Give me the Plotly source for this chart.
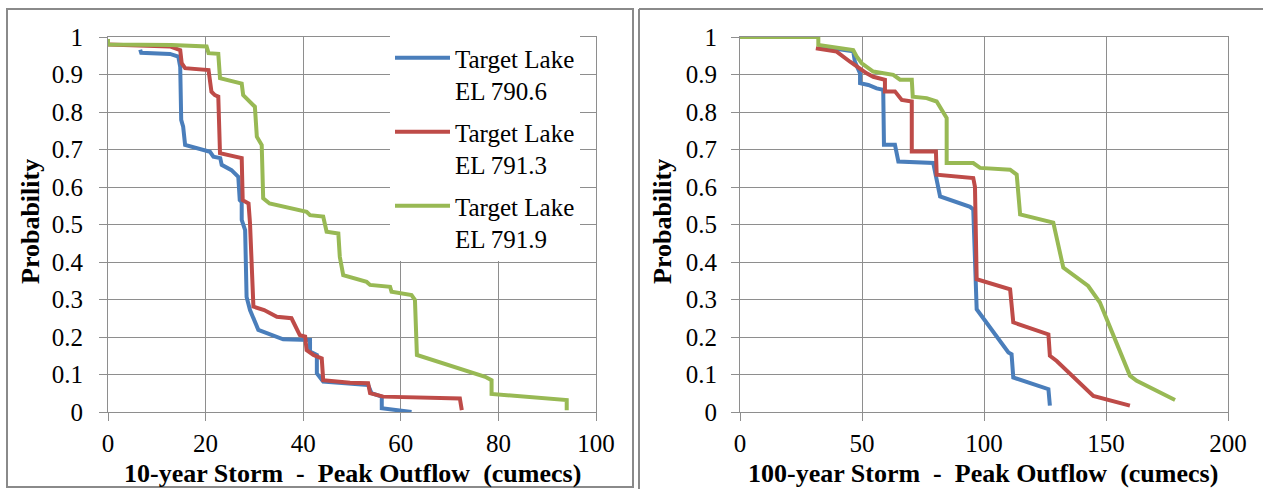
import plotly.graph_objects as go

# ---------------- data ----------------
series_names = ["Target Lake<br>EL 790.6", "Target Lake<br>EL 791.3", "Target Lake<br>EL 791.9"]
colors = ["#4A7EBB", "#BE4B48", "#98B954"]

# 10-year storm (left)
l_blue_x = [6.6, 6.8, 12.7, 14.4, 14.8, 15.0, 15.4, 15.8, 20.9, 21.6, 23.0, 23.3, 25.3, 26.7, 27.0, 27.4, 27.4, 28.1, 28.4, 29.1, 30.8, 33.9, 35.9, 41.4, 41.4, 42.8, 42.8, 44.1, 48.9, 53.3, 54.0, 56.1, 56.1, 62.2]
l_blue_y = [0.966, 0.958, 0.955, 0.948, 0.92, 0.779, 0.761, 0.712, 0.694, 0.681, 0.677, 0.659, 0.645, 0.627, 0.565, 0.56, 0.512, 0.485, 0.307, 0.272, 0.219, 0.205, 0.194, 0.192, 0.161, 0.152, 0.103, 0.081, 0.075, 0.072, 0.05, 0.041, 0.01, 0.0]

l_red_x = [0, 12.7, 14.8, 15.1, 15.8, 20.6, 21.2, 21.9, 22.6, 22.95, 27.4, 27.6, 28.8, 29.1, 29.8, 32.0, 34.6, 37.6, 39.3, 40.4, 40.7, 42.1, 43.8, 44.1, 49.6, 53.3, 53.7, 56.4, 72.1, 72.5]
l_red_y = [0.98, 0.975, 0.965, 0.93, 0.917, 0.912, 0.854, 0.845, 0.841, 0.69, 0.677, 0.565, 0.556, 0.503, 0.281, 0.272, 0.254, 0.25, 0.205, 0.201, 0.165, 0.152, 0.143, 0.085, 0.078, 0.077, 0.05, 0.041, 0.036, 0.005]

l_green_x = [0, 0, 13.0, 20.2, 20.6, 22.6, 22.95, 27.4, 27.7, 30.1, 30.5, 31.5, 31.8, 33.1, 40.7, 41.4, 44.1, 44.8, 47.2, 47.5, 48.2, 53.0, 53.7, 57.8, 58.1, 62.2, 62.9, 63.3, 77.3, 78.6, 78.6, 94.0, 94.0]
l_green_y = [0.995, 0.98, 0.979, 0.975, 0.957, 0.955, 0.89, 0.876, 0.845, 0.814, 0.734, 0.712, 0.57, 0.556, 0.534, 0.525, 0.521, 0.481, 0.476, 0.414, 0.365, 0.347, 0.339, 0.334, 0.321, 0.312, 0.299, 0.152, 0.094, 0.085, 0.048, 0.032, 0.005]

# 100-year storm (right)
r_blue_x = [32.1, 46.4, 47.1, 49.2, 49.2, 52.6, 56.0, 58.7, 59.0, 63.5, 64.9, 79.2, 82.0, 94.3, 95.6, 97.0, 110.0, 111.3, 112.0, 126.4, 127.0]
r_blue_y = [0.975, 0.962, 0.934, 0.903, 0.877, 0.872, 0.863, 0.859, 0.713, 0.713, 0.668, 0.664, 0.575, 0.547, 0.54, 0.274, 0.159, 0.154, 0.092, 0.061, 0.017]

r_red_x = [31.1, 39.6, 45.1, 51.9, 54.6, 59.4, 59.4, 63.5, 66.3, 70.4, 70.4, 80.3, 80.6, 95.6, 96.3, 97.0, 110.7, 112.0, 126.4, 127.0, 129.8, 144.8, 159.8]
r_red_y = [0.97, 0.961, 0.934, 0.903, 0.894, 0.886, 0.855, 0.855, 0.832, 0.828, 0.695, 0.695, 0.633, 0.624, 0.60, 0.354, 0.327, 0.239, 0.207, 0.15, 0.136, 0.043, 0.017]

r_green_x = [0, 32.1, 32.1, 46.4, 47.8, 49.9, 54.6, 62.8, 65.6, 70.4, 70.8, 76.5, 80.6, 84.7, 84.7, 95.6, 98.4, 110.7, 113.4, 114.8, 128.4, 132.5, 142.7, 147.5, 159.8, 162.6, 178.3]
r_green_y = [1.0, 1.0, 0.979, 0.965, 0.948, 0.93, 0.908, 0.899, 0.886, 0.886, 0.841, 0.837, 0.828, 0.784, 0.664, 0.664, 0.651, 0.646, 0.633, 0.527, 0.505, 0.385, 0.336, 0.292, 0.097, 0.083, 0.032]

left_xticks = [0, 20, 40, 60, 80, 100]
right_xticks = [0, 50, 100, 150, 200]
y_ticks = [0, 0.1, 0.2, 0.3, 0.4, 0.5, 0.6, 0.7, 0.8, 0.9, 1]
y_ticktext = ["0", "0.1", "0.2", "0.3", "0.4", "0.5", "0.6", "0.7", "0.8", "0.9", "1"]

left_xtitle = "10-year Storm  -  Peak Outflow  (cumecs)"
right_xtitle = "100-year Storm  -  Peak Outflow  (cumecs)"
ytitle = "Probability"

# ---------------- figure ----------------
W, H = 1263, 489
FONT = "Liberation Serif"
GRID = "#8E8E8E"

fig = go.Figure()

left = [(l_blue_x, l_blue_y), (l_red_x, l_red_y), (l_green_x, l_green_y)]
right = [(r_blue_x, r_blue_y), (r_red_x, r_red_y), (r_green_x, r_green_y)]

for i, (xs, ys) in enumerate(left):
    fig.add_trace(go.Scatter(x=xs, y=ys, mode="lines", name=series_names[i],
                             legendgroup="g%d" % i,
                             line=dict(color=colors[i], width=4), xaxis="x", yaxis="y",
                             showlegend=True))
for i, (xs, ys) in enumerate(right):
    fig.add_trace(go.Scatter(x=xs, y=ys, mode="lines", name=series_names[i],
                             legendgroup="g%d" % i,
                             line=dict(color=colors[i], width=4), xaxis="x2", yaxis="y2",
                             showlegend=False))

def px_x(p):
    return p / W

def px_y(p):
    return 1 - p / H

ydom = [px_y(412), px_y(37)]

axis_common = dict(showgrid=True, gridcolor=GRID, gridwidth=1.2, showline=True,
                   linecolor=GRID, linewidth=1.2, mirror=True, ticks="outside",
                   ticklen=8, tickcolor=GRID, tickwidth=1.2, zeroline=False,
                   automargin=False, fixedrange=True,
                   tickfont=dict(family=FONT, size=25, color="#000000"))

fig.update_layout(
    width=W, height=H, autosize=False,
    margin=dict(l=0, r=0, t=0, b=0, pad=0, autoexpand=False),
    paper_bgcolor="white", plot_bgcolor="white",
    font=dict(family=FONT, color="#000000"),
    xaxis=dict(domain=[px_x(108), px_x(596)], range=[0, 100], tickvals=left_xticks,
               anchor="y", ticklabelstandoff=1, **axis_common),
    yaxis=dict(domain=ydom, range=[0, 1], tickvals=y_ticks, ticktext=y_ticktext,
               anchor="x", ticklabelstandoff=11, **axis_common),
    xaxis2=dict(domain=[px_x(740), px_x(1228)], range=[0, 200], tickvals=right_xticks,
                anchor="y2", ticklabelstandoff=1, **axis_common),
    yaxis2=dict(domain=ydom, range=[0, 1], tickvals=y_ticks, ticktext=y_ticktext,
                anchor="x2", ticklabelstandoff=9, **axis_common),
    legend=dict(x=px_x(390), y=px_y(35), xanchor="left", yanchor="top",
                bgcolor="white", borderwidth=0, valign="top", itemwidth=55,
                font=dict(family=FONT, size=25, color="#000000"),
                tracegroupgap=6),
    showlegend=True,
)

# axis titles as annotations
ann_font = dict(family=FONT, size=26, color="#000000")
fig.add_annotation(x=px_x(352), y=px_y(473), xref="paper", yref="paper", text="<b>" + left_xtitle + "</b>",
                   xanchor="center", yanchor="middle", showarrow=False, font=ann_font)
fig.add_annotation(x=px_x(983), y=px_y(473), xref="paper", yref="paper", text="<b>" + right_xtitle + "</b>",
                   xanchor="center", yanchor="middle", showarrow=False, font=ann_font)
fig.add_annotation(x=px_x(30), y=px_y(222), xref="paper", yref="paper", text="<b>" + ytitle + "</b>",
                   xanchor="center", yanchor="middle", showarrow=False, textangle=-90, font=ann_font)
fig.add_annotation(x=px_x(662), y=px_y(222), xref="paper", yref="paper", text="<b>" + ytitle + "</b>",
                   xanchor="center", yanchor="middle", showarrow=False, textangle=-90, font=ann_font)

# panel frames
FRAME = dict(color="#8A8A8A", width=2)
fig.add_shape(type="rect", xref="paper", yref="paper", x0=px_x(7), x1=px_x(633), y0=px_y(487), y1=px_y(9),
              line=FRAME, fillcolor="rgba(0,0,0,0)", layer="below")
fig.add_shape(type="line", xref="paper", yref="paper", x0=px_x(639), x1=1, y0=px_y(9), y1=px_y(9),
              line=FRAME, layer="below")
fig.add_shape(type="line", xref="paper", yref="paper", x0=px_x(639), x1=px_x(639), y0=0, y1=px_y(9),
              line=FRAME, layer="below")

fig.write_html("out.html", config={"displayModeBar": False},
               post_script="document.body.style.margin='0';")
